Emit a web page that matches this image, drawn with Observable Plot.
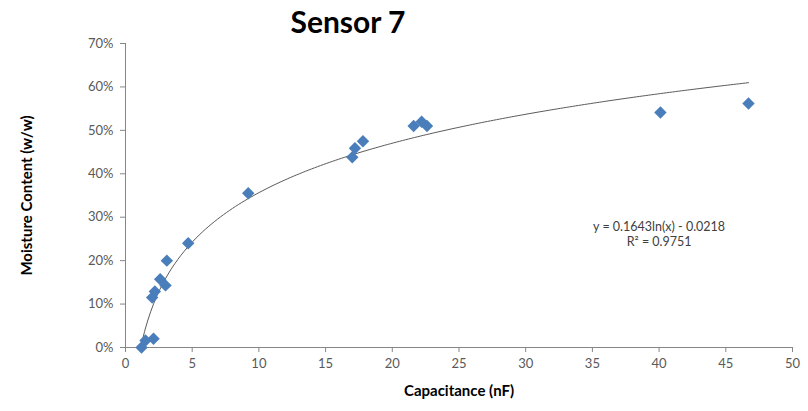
<!DOCTYPE html>
<html><head><meta charset="utf-8">
<script src="https://cdn.jsdelivr.net/npm/d3@7"></script>
<script src="https://cdn.jsdelivr.net/npm/@observablehq/plot@0.6"></script>
<style>
body{margin:0;background:#fff;font-family:Lato,"Liberation Sans",sans-serif}
#title{height:36px;width:696px;text-align:center;font-weight:bold;font-size:30px;line-height:42px;color:#000;overflow:visible}
</style>
</head><body>
<div id="title">Sensor 7</div>
<div id="chart"></div>
<script>
const capacitance = [1.2, 1.5, 2.1, 2.0, 2.2, 2.6, 3.0, 3.1, 4.7, 9.2, 17.0, 17.2, 17.8, 21.6, 22.2, 22.6, 40.1, 46.7];
const moisture = [0.000, 0.016, 0.020, 0.115, 0.129, 0.157, 0.143, 0.200, 0.240, 0.355, 0.438, 0.459, 0.475, 0.510, 0.520, 0.510, 0.541, 0.562];
const xTicks = [0, 5, 10, 15, 20, 25, 30, 35, 40, 45, 50];
const yTicks = [0, 0.1, 0.2, 0.3, 0.4, 0.5, 0.6, 0.7];
const trendA = 0.1643, trendB = -0.0218;
const eqLines = ["y = 0.1643ln(x) - 0.0218", "R² = 0.9751"];

const points = capacitance.map((c, i) => ({x: c, y: moisture[i]}));
const xMin = d3.min(capacitance), xMax = d3.max(capacitance);
const trend = d3.range(0, 201).map(i => {
  const x = xMin + (xMax - xMin) * i / 200;
  return {x, y: trendA * Math.log(x) + trendB};
});

const axisColor = "#868686";
const labelColor = "#595959";

const chart = Plot.plot({
  width: 808,
  height: 375,
  marginLeft: 125,
  marginRight: 16,
  marginTop: 7,
  marginBottom: 64,
  style: {fontFamily: "Lato, 'Liberation Sans', sans-serif", background: "#fff"},
  x: {domain: [0, 50], ticks: xTicks},
  y: {domain: [0, 0.7], ticks: yTicks},
  marks: [
    Plot.axisX({ticks: xTicks, tickSize: 5, tickPadding: 6, fontSize: 13, color: labelColor, stroke: axisColor,
      label: "Capacitance (nF)", labelAnchor: "center", labelOffset: 48, labelArrow: "none"}),
    Plot.axisY({ticks: yTicks, tickSize: 5, tickPadding: 7, fontSize: 13, color: labelColor, stroke: axisColor,
      tickFormat: d3.format(".0%"),
      label: "Moisture Content (w/w)", labelAnchor: "center", labelOffset: 104, labelArrow: "none"}),
    Plot.ruleX([0], {stroke: axisColor}),
    Plot.ruleY([0], {stroke: axisColor}),
    Plot.line(trend, {x: "x", y: "y", stroke: "#5a5a5a", strokeWidth: 1}),
    Plot.dot(points, {x: "x", y: "y", symbol: "diamond2", r: 5.6, fill: "#4a7ebb", stroke: "none"}),
    Plot.text([eqLines.join("\n")], {x: 40, y: 0.262, text: d => d, fontSize: 12.5, fill: "#404040", lineHeight: 1.15, textAnchor: "middle"})
  ]
});
document.getElementById("chart").appendChild(chart);
chart.querySelectorAll("[aria-label='x-axis label'] text, [aria-label='y-axis label'] text").forEach(t => {
  t.setAttribute("font-weight", "bold");
  t.setAttribute("font-size", "15");
  t.setAttribute("fill", "#000");
});
</script>
</body></html>
